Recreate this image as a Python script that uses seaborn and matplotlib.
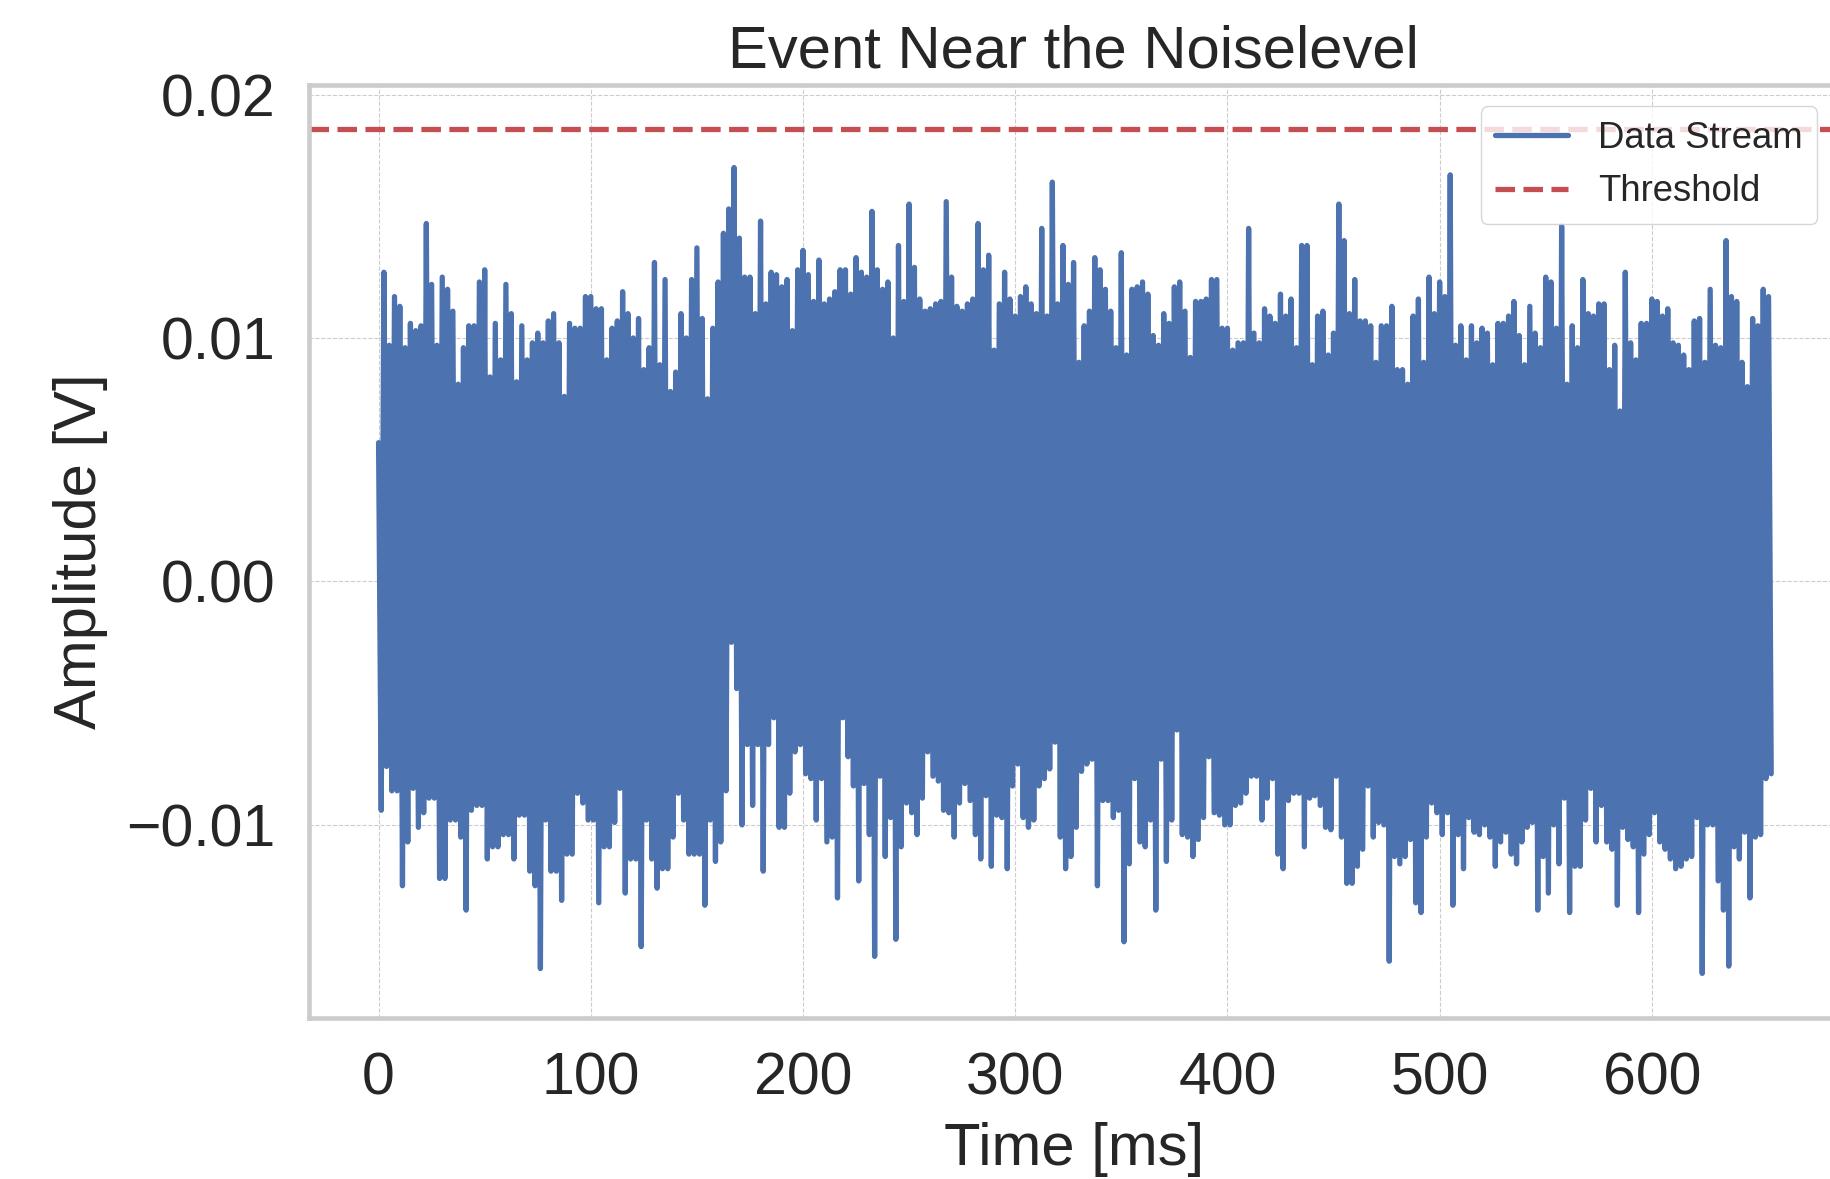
import numpy as np
import pandas as pd
import matplotlib
matplotlib.use("Agg")
import matplotlib.pyplot as plt
import seaborn as sns

# Maximum and minimum of the stream in consecutive 2.5 ms bins, in mV
upper_mv = [
    5.7, 12.7, 9.7, 11.7, 11.3, 9.6, 10.6, 10.3, 10.5, 14.7,
    12.2, 9.7, 12.5, 12.0, 11.1, 8.1, 9.6, 10.5, 10.5, 12.3,
    12.8, 8.4, 10.6, 9.1, 12.2, 11.0, 8.2, 10.5, 9.1, 9.8,
    10.2, 9.8, 10.7, 11.0, 9.8, 7.6, 10.6, 10.4, 10.4, 11.7,
    11.7, 11.2, 11.2, 9.1, 10.4, 10.7, 11.9, 11.0, 10.0, 10.8,
    8.7, 9.6, 13.1, 8.9, 12.4, 7.8, 8.6, 11.0, 10.0, 12.4,
    13.7, 10.8, 7.5, 10.4, 12.3, 14.3, 15.3, 17.0, 14.1, 12.5,
    12.5, 11.0, 14.8, 11.4, 12.7, 12.6, 12.1, 12.4, 10.3, 12.8,
    13.6, 12.6, 11.5, 13.2, 11.4, 11.6, 11.9, 12.8, 12.8, 11.8,
    13.3, 12.7, 12.5, 15.2, 12.8, 12.0, 12.3, 10.0, 13.8, 11.5,
    15.5, 12.9, 11.6, 11.1, 11.2, 11.4, 11.5, 15.6, 12.5, 11.3,
    11.1, 11.4, 11.6, 14.7, 12.8, 13.4, 9.5, 11.4, 12.7, 11.6,
    10.9, 11.7, 12.1, 11.4, 11.0, 14.5, 10.9, 16.4, 11.4, 13.8,
    12.2, 13.1, 9.0, 10.5, 11.1, 13.3, 12.8, 12.0, 11.1, 9.6,
    13.5, 9.3, 12.0, 12.1, 12.3, 11.8, 10.1, 9.7, 11.0, 10.6,
    12.1, 12.3, 11.1, 9.2, 11.5, 11.5, 11.6, 12.4, 12.4, 10.4,
    10.4, 9.5, 9.8, 9.8, 14.5, 10.2, 9.8, 11.2, 10.9, 10.6,
    11.8, 10.9, 11.6, 9.6, 13.8, 13.8, 8.9, 10.9, 11.1, 9.3,
    10.2, 15.5, 14.0, 11.0, 12.4, 10.7, 10.7, 10.5, 9.0, 10.5,
    10.5, 11.3, 8.7, 8.7, 8.1, 10.9, 11.6, 9.0, 12.5, 11.0,
    12.3, 11.7, 16.7, 9.7, 10.5, 9.1, 10.5, 9.8, 10.4, 10.2,
    8.9, 10.6, 10.6, 10.9, 11.5, 10.1, 8.9, 11.3, 10.2, 9.6,
    12.5, 12.3, 10.4, 14.6, 8.1, 10.5, 9.6, 12.4, 11.0, 10.9,
    11.4, 11.4, 8.7, 9.7, 7.0, 12.7, 9.8, 9.1, 10.6, 10.6,
    11.6, 11.5, 10.9, 11.2, 9.8, 9.7, 9.3, 8.7, 10.7, 10.8,
    9.0, 12.0, 9.7, 9.6, 14.0, 11.7, 11.5, 9.0, 8.0, 10.8,
    10.5, 12.0, 11.7,
]
lower_mv = [
    -9.4, -7.6, -8.6, -8.6, -12.5, -10.7, -8.5, -10.1, -9.5, -8.9,
    -8.9, -12.2, -12.2, -9.8, -9.8, -10.5, -13.5, -9.4, -9.2, -9.2,
    -11.4, -10.9, -10.9, -10.4, -10.4, -11.4, -9.6, -9.6, -11.9, -12.5,
    -15.9, -9.8, -11.9, -11.9, -13.1, -11.2, -11.2, -8.7, -9.1, -9.8,
    -9.8, -13.2, -10.9, -10.9, -9.9, -8.5, -12.8, -11.4, -11.4, -15.0,
    -9.8, -11.4, -12.6, -11.8, -11.8, -10.5, -8.7, -9.8, -11.2, -11.2,
    -11.2, -13.3, -9.8, -11.5, -10.7, -8.6, -2.5, -4.4, -10.0, -6.7,
    -9.2, -6.7, -11.9, -6.7, -5.6, -10.1, -10.1, -8.7, -7.0, -6.7,
    -7.9, -8.1, -9.8, -8.1, -10.7, -10.5, -13.0, -5.6, -7.2, -8.4,
    -12.3, -8.3, -10.4, -15.4, -8.0, -11.3, -9.7, -14.7, -10.9, -9.1,
    -9.5, -10.4, -8.9, -7.0, -8.0, -8.2, -9.4, -9.5, -10.5, -9.1,
    -8.3, -9.0, -10.4, -11.4, -8.8, -11.7, -9.6, -9.7, -11.8, -8.4,
    -7.5, -9.7, -10.1, -9.8, -8.4, -8.1, -7.7, -6.6, -10.5, -11.8,
    -11.3, -10.1, -7.8, -7.5, -7.3, -12.5, -9.0, -9.0, -9.7, -9.4,
    -14.8, -11.6, -8.1, -10.7, -10.9, -9.8, -13.5, -7.3, -11.5, -9.8,
    -6.1, -10.4, -10.5, -11.3, -10.6, -9.7, -7.2, -9.5, -9.6, -10.0,
    -10.0, -9.2, -9.1, -8.7, -8.0, -8.0, -9.8, -8.9, -8.1, -11.2,
    -11.8, -9.0, -8.7, -8.7, -10.9, -8.9, -8.8, -9.2, -10.1, -10.2,
    -8.0, -10.5, -12.4, -12.4, -11.7, -11.0, -8.4, -10.5, -9.9, -10.0,
    -15.6, -11.3, -11.6, -11.3, -10.6, -13.2, -13.6, -10.5, -9.1, -9.5,
    -10.4, -9.5, -13.3, -10.4, -11.8, -9.7, -10.3, -10.4, -10.0, -10.5,
    -11.7, -10.7, -10.3, -11.2, -11.6, -10.7, -10.1, -9.9, -13.5, -11.3,
    -12.8, -10.0, -11.6, -8.9, -13.6, -11.7, -11.7, -9.8, -8.5, -10.7,
    -9.2, -10.7, -11.0, -13.3, -10.1, -10.6, -10.9, -13.6, -11.2, -10.4,
    -9.5, -10.7, -11.0, -11.4, -11.8, -11.7, -11.4, -11.3, -9.7, -16.1,
    -10.0, -10.0, -12.3, -13.5, -15.8, -10.9, -11.4, -10.3, -13.0, -10.5,
    -10.4, -8.1, -7.9,
]
bin_ms = 2.5
threshold_v = 0.0186

x_ticks = [0, 100, 200, 300, 400, 500, 600]
y_ticks = [-0.01, 0.00, 0.01, 0.02]
x_limits = (-32.75, 688.1)
y_limits = (-0.01792, 0.02041)

title_text = "Event Near the Noiselevel"
x_label = "Time [ms]"
y_label = "Amplitude [V]"
stream_label = "Data Stream"
threshold_label = "Threshold"

blue = "#4c72b0"
red = "#c44e52"

# Interleave each bin's maximum and minimum into one sample sequence
n_bins = len(upper_mv)
bin_start = np.arange(n_bins) * bin_ms
time_ms = np.empty(2 * n_bins)
time_ms[0::2] = bin_start
time_ms[1::2] = bin_start + bin_ms / 2
amp_v = np.empty(2 * n_bins)
amp_v[0::2] = np.asarray(upper_mv) / 1000.0
amp_v[1::2] = np.asarray(lower_mv) / 1000.0
stream = pd.DataFrame({"time": time_ms, "amplitude": amp_v})

sns.set_theme(style="whitegrid")
plt.rcParams["font.family"] = ["Liberation Sans", "DejaVu Sans"]

fig = plt.figure(figsize=(18.3, 11.79), dpi=100)
ax = fig.add_axes([0.1689, 0.1368, 0.8359, 0.7915])

sns.lineplot(data=stream, x="time", y="amplitude", ax=ax, color=blue,
             linewidth=3.8, estimator=None, sort=False, label=stream_label)
ax.axhline(threshold_v, color=red, linestyle="--", linewidth=3.8,
           label=threshold_label)

ax.set_xlim(*x_limits)
ax.set_ylim(*y_limits)
ax.set_xticks(x_ticks)
ax.set_yticks(y_ticks)

ax.grid(True, linestyle="--", linewidth=0.8, color="#cccccc")
for spine in ax.spines.values():
    spine.set_color("#cccccc")
    spine.set_linewidth(3.3)

ax.tick_params(axis="both", length=0, pad=24.5, labelsize=42.5,
               labelcolor="#262626")
ax.set_title(title_text, fontsize=43, pad=12, color="#262626")
ax.set_xlabel(x_label, fontsize=43, labelpad=11, color="#262626")
ax.set_ylabel(y_label, fontsize=43, labelpad=13, color="#262626")

ax.legend(loc="upper right", fontsize=26.3, frameon=True,
          edgecolor="#cccccc", borderaxespad=0.6)

fig.savefig("out.png", dpi=100)
